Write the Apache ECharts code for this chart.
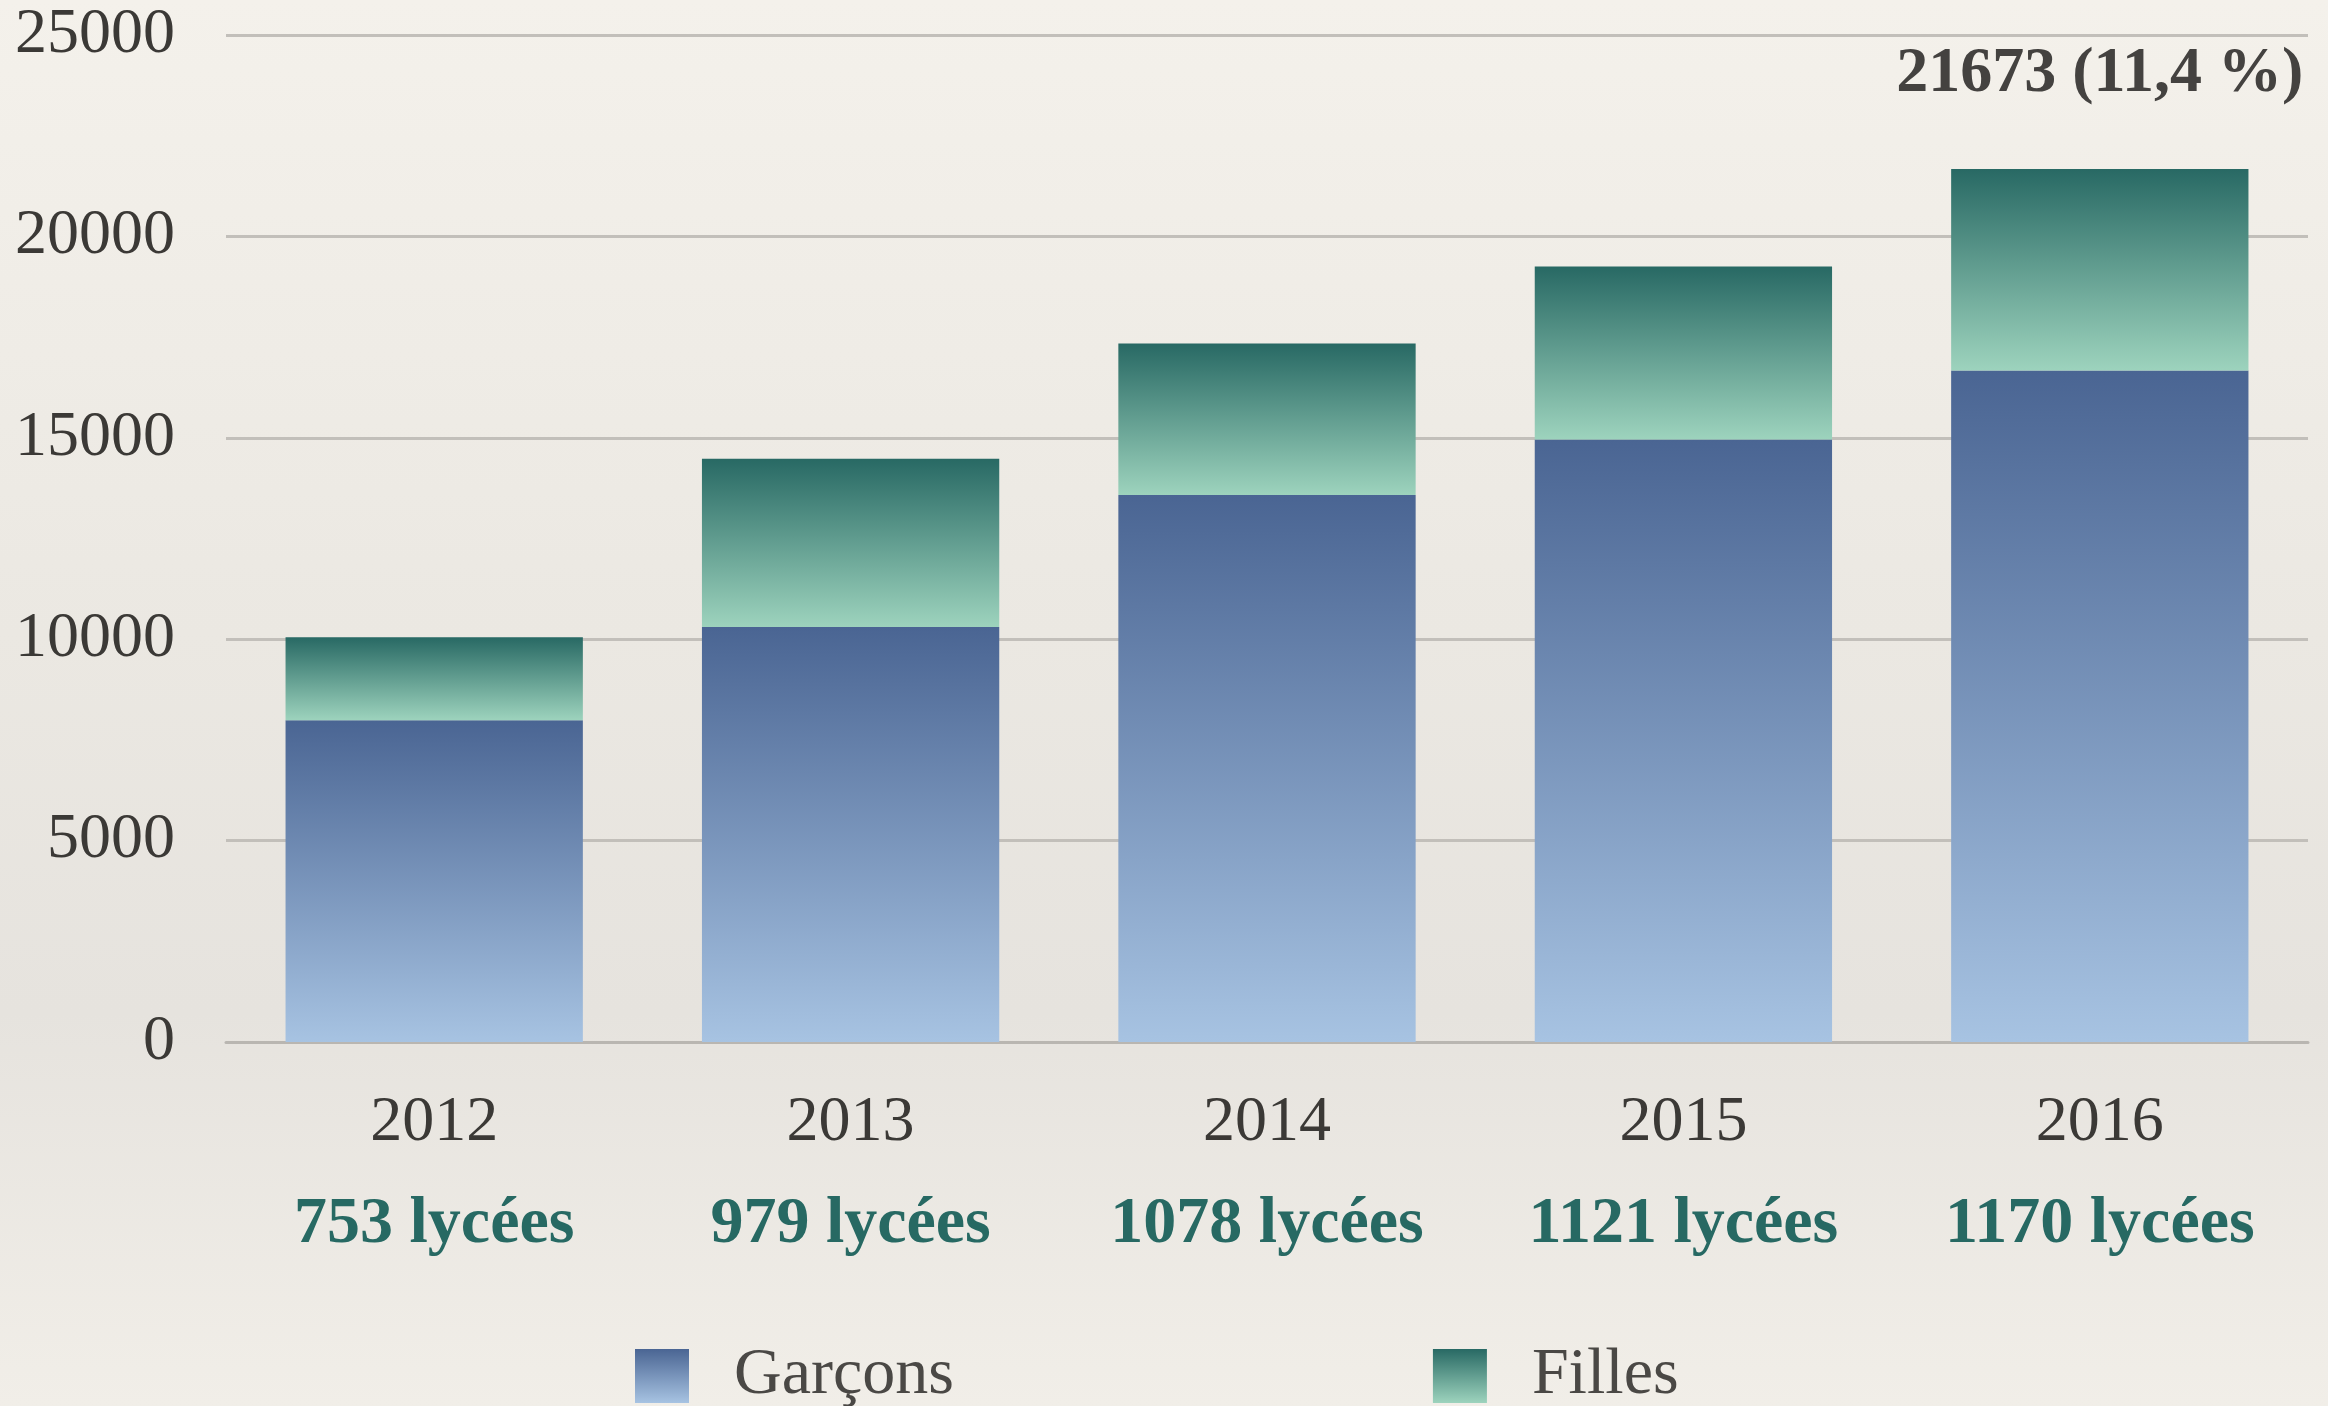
<!DOCTYPE html>
<html>
<head>
<meta charset="UTF-8">
<script type="text/javascript" src="https://cdn.jsdelivr.net/npm/echarts@6/dist/echarts.min.js"></script>
<title></title>
<style>
  html, body { margin: 0; padding: 0; }
</style>
</head>
<body>
<div id="main" style="width:2328px;height:1406px"></div>
<script type="text/javascript">
// années et nombre de lycées
var years = ['2012', '2013', '2014', '2015', '2016'];
var lycees = ['753 lycées', '979 lycées', '1078 lycées', '1121 lycées', '1170 lycées'];
// effectifs
var garcons = [7985, 10300, 13580, 14960, 16670];
var filles = [2065, 4180, 3760, 4290, 5003];
var totalLabel = '21673 (11,4 %)';
var yTicks = [0, 5000, 10000, 15000, 20000, 25000];

var serif = '"Liberation Serif", "DejaVu Serif", serif';

var myChart = echarts.init(document.getElementById('main'));

function grad(top, bottom) {
    return new echarts.graphic.LinearGradient(0, 0, 0, 1, [
        { offset: 0, color: top },
        { offset: 1, color: bottom }
    ]);
}

var fillesData = filles.map(function (v, i) {
    if (i === filles.length - 1) {
        return {
            value: v,
            label: {
                show: true,
                position: 'top',
                distance: 63,
                formatter: totalLabel,
                fontFamily: serif,
                fontSize: 64,
                fontWeight: 'bold',
                lineHeight: 64,
                color: '#444240'
            }
        };
    }
    return v;
});

var option = {
    backgroundColor: new echarts.graphic.LinearGradient(0, 0, 0, 1, [
        { offset: 0, color: '#f4f1eb' },
        { offset: 0.45, color: '#ebe8e2' },
        { offset: 0.72, color: '#e6e3de' },
        { offset: 1, color: '#f1eee8' }
    ]),
    animation: false,
    grid: {
        left: 226,
        right: 20,
        top: 35,
        bottom: 364
    },
    legend: {
        data: ['Garçons', 'Filles'],
        left: 635,
        top: 1343,
        padding: 0,
        itemWidth: 54,
        itemHeight: 54,
        itemGap: 479,
        icon: 'rect',
        textStyle: {
            fontFamily: serif,
            fontSize: 66,
            color: '#4a4845',
            lineHeight: 54,
            padding: [0, 0, 0, 40]
        }
    },
    xAxis: {
        type: 'category',
        data: years,
        axisTick: { show: false },
        axisLine: { lineStyle: { color: '#b9b6b1', width: 3 } },
        axisLabel: {
            margin: 30,
            formatter: function (val, idx) {
                return '{y|' + val + '}\n{n|' + lycees[idx] + '}';
            },
            rich: {
                y: {
                    fontFamily: serif,
                    fontSize: 64,
                    lineHeight: 102,
                    color: '#3b3936'
                },
                n: {
                    fontFamily: serif,
                    fontSize: 66,
                    fontWeight: 'bold',
                    lineHeight: 102,
                    color: '#276963'
                }
            }
        }
    },
    yAxis: {
        type: 'value',
        min: yTicks[0],
        max: yTicks[yTicks.length - 1],
        interval: 5000,
        axisLine: { show: false },
        axisTick: { show: false },
        splitLine: { lineStyle: { color: '#c2bfba', width: 3 } },
        axisLabel: {
            margin: 51,
            fontFamily: serif,
            fontSize: 64,
            color: '#3b3936',
            formatter: function (v) { return String(v); }
        }
    },
    series: [{
        name: 'Garçons',
        type: 'bar',
        stack: 'total',
        barWidth: '71.4%',
        itemStyle: { color: grad('#4a6593', '#a7c3e2') },
        data: garcons
    }, {
        name: 'Filles',
        type: 'bar',
        stack: 'total',
        barWidth: '71.4%',
        itemStyle: { color: grad('#286964', '#9dd3bd') },
        data: fillesData
    }]
};

myChart.setOption(option);
</script>
</body>
</html>
